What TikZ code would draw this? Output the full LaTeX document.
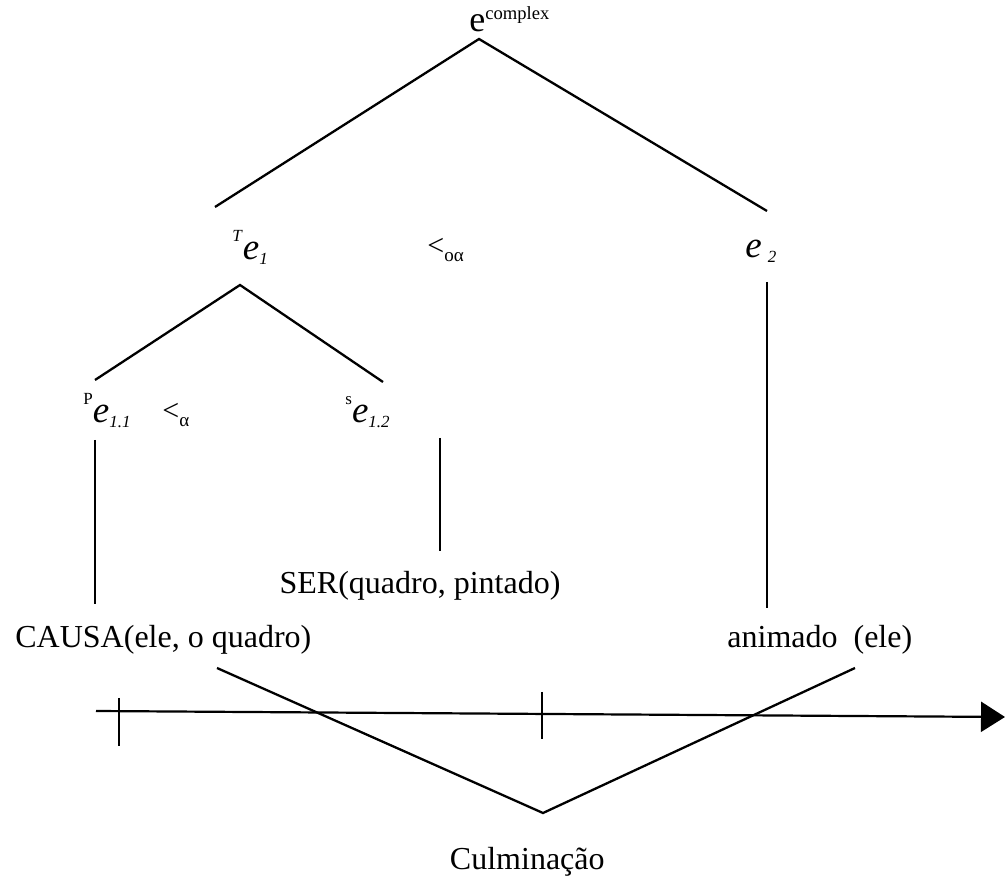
\documentclass[tikz,border=0pt]{standalone}
\usepackage{fontspec}
\setmainfont{Liberation Serif}
\usetikzlibrary{arrows.meta}

\newcommand{\indsup}[1]{\raisebox{9pt}{\fontsize{8.5}{9}\selectfont #1}}
\newcommand{\indsub}[1]{\raisebox{-2.5pt}{\fontsize{8.5}{9}\selectfont #1}}

\begin{document}
\begin{tikzpicture}[
    x=0.5pt, y=-0.5pt,
    font=\fontsize{16}{19}\selectfont,
    rotulo/.style={inner sep=0pt, anchor=base west},
    evento/.style={inner sep=0pt, anchor=base west, font=\fontsize{18.5}{20}\selectfont},
    ordem/.style={inner sep=0pt, anchor=base west, font=\fontsize{15}{16}\selectfont},
    ramo/.style={line width=1.15pt},
    haste/.style={line width=1pt},
    marca/.style={line width=0.7pt},
    eixo/.style={line width=1.1pt, -{Triangle[length=12pt, width=15pt]}}
]
\useasboundingbox (0,0) rectangle (1007,881);

% rotulos da arvore
\node[rotulo] (ecx) at (469,32)
    {{\fontsize{18}{20}\selectfont e}\raisebox{6pt}{\fontsize{9.3}{10}\selectfont complex}};
\node[evento] (te1)  at (232,260) {\indsup{\textit{T}}\textit{e}\indsub{\textit{1}}};
\node[ordem]  (ltoa) at (427,256) {<\raisebox{-3pt}{\fontsize{9.5}{10}\selectfont oα}};
\node[evento] (e2)   at (745,258) {\textit{e}\,\indsub{\textit{2}}};
\node[evento] (pe11) at (83,423)  {\indsup{P}\textit{e}\indsub{\textit{1.1}}};
\node[ordem]  (lta)  at (162,421) {<\raisebox{-3pt}{\fontsize{9.5}{10}\selectfont α}};
\node[evento] (se12) at (345,423) {\indsup{s}\textit{e}\indsub{\textit{1.2}}};

% predicados
\node[rotulo, anchor=base] (ser) at (420,594) {SER(quadro, pintado)};
\node[rotulo] (causa) at (15,648)  {CAUSA(ele, o quadro)};
\node[rotulo] (anim)  at (727,648) {animado~ (ele)};
\node[rotulo, anchor=base east] (culm) at (605,869) {Culminação};

% pontos de ligacao
\coordinate (raiz)  at (479,39);
\coordinate (ramoE) at (215,207);
\coordinate (ramoD) at (767,211);
\coordinate (noT)   at (240,285);
\coordinate (ramoP) at (95,380);
\coordinate (ramoS) at (383,382);
\coordinate (hPa) at (95,440);   \coordinate (hPb) at (95,604);
\coordinate (hSa) at (440,438);  \coordinate (hSb) at (440,551);
\coordinate (hEa) at (767,282);  \coordinate (hEb) at (767,608);
\coordinate (causaFim) at (217,668);
\coordinate (culmV)    at (543,813);
\coordinate (animFim)  at (855,668);
\coordinate (eixoIni)  at (96,711);
\coordinate (eixoFim)  at (1005,717);
\coordinate (t1a) at (119,698);  \coordinate (t1b) at (119,746);
\coordinate (t2a) at (542,692);  \coordinate (t2b) at (542,739);

\draw[ramo] (ramoE) -- (raiz) -- (ramoD);
\draw[ramo] (ramoP) -- (noT) -- (ramoS);
\draw[haste] (hPa) -- (hPb);
\draw[haste] (hSa) -- (hSb);
\draw[haste] (hEa) -- (hEb);

% linha do tempo
\draw[eixo] (eixoIni) -- (eixoFim);
\draw[marca] (t1a) -- (t1b);
\draw[marca] (t2a) -- (t2b);
\draw[ramo] (causaFim) -- (culmV) -- (animFim);

\end{tikzpicture}
\end{document}
